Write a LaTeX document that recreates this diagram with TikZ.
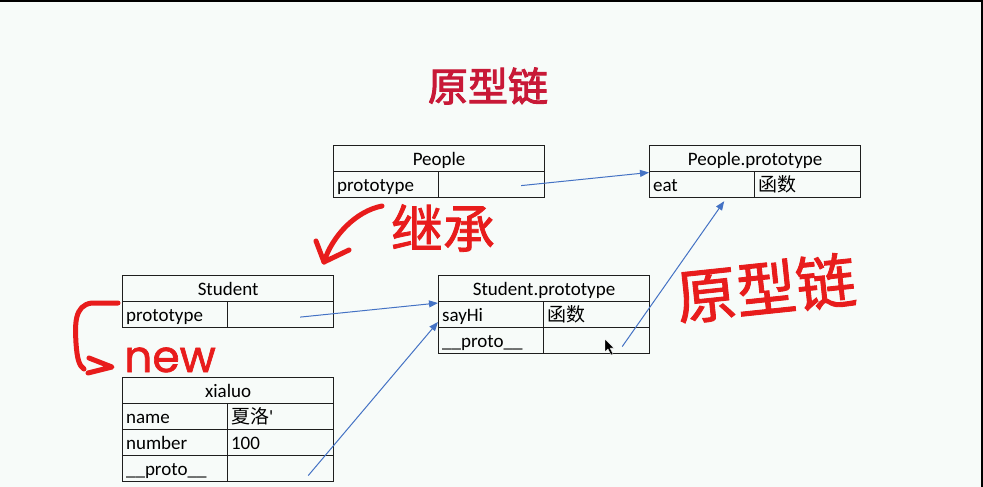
\documentclass[tikz,border=0pt]{standalone}
\usepackage{fontspec}
\usetikzlibrary{arrows.meta}
\newfontfamily\tabfont{Carlito}
\newfontfamily\cjk{Noto Sans CJK SC}
\newfontfamily\cjkbold[FakeBold=2.5]{Noto Sans CJK SC}
\newfontfamily\handcjk[FakeBold=1.5]{Noto Sans CJK SC}
\newfontfamily\handlat[FakeBold=1.5]{Poppins}
\definecolor{bgc}{RGB}{247,251,249}
\definecolor{linec}{RGB}{30,30,30}
\definecolor{arrc}{RGB}{68,114,196}
\definecolor{titlered}{RGB}{200,25,55}
\definecolor{handred}{RGB}{232,28,28}
\tikzset{
  cellbase/.style={draw=linec, line width=1.2pt, minimum height=26pt, inner ysep=0pt,
    text height=15.5pt, text depth=2pt, font=\tabfont\fontsize{19}{22}\selectfont, anchor=north west},
  hdr/.style={cellbase, minimum width=211pt, inner xsep=0pt},
  keycell/.style={cellbase, text width=98pt, inner xsep=3.5pt, align=left},
  valcell/.style={cellbase, text width=99pt, inner xsep=3.5pt, align=left},
  link/.style={draw=arrc, line width=1pt, -{Triangle[length=9pt,width=7pt]}},
  hand/.style={draw=handred, line width=5pt, line cap=round, line join=round},
  handtext/.style={text=handred, inner sep=0pt}
}
\begin{document}
\begin{tikzpicture}[x=1pt,y=-1pt]
\useasboundingbox (0,0) rectangle (983,487);
\fill[bgc] (0,0) rectangle (983,487);
\fill[black] (0,0) rectangle (983,2.5);
\fill[black] (980.5,0) rectangle (983,487);

% title
\node[font=\cjkbold\fontsize{40}{44}\selectfont, text=titlered] (title) at (488,86) {原型链};

% People
\node[hdr] (p) at (333,145) {People};
\node[keycell] (pk) at (333,171) {prototype};
\node[valcell] (pv) at (438,171) {};

% People.prototype
\node[hdr] (pp) at (649,145) {People.prototype};
\node[keycell] (ppk) at (649,171) {eat};
\node[valcell] (ppv) at (754,171) {\cjk 函数};

% Student
\node[hdr] (s) at (122,275) {Student};
\node[keycell] (sk) at (122,301) {prototype};
\node[valcell] (sv) at (227,301) {};

% Student.prototype
\node[hdr] (sp) at (438,275) {Student.prototype};
\node[keycell] (spk1) at (438,301) {sayHi};
\node[valcell] (spv1) at (543,301) {\cjk 函数};
\node[keycell] (spk2) at (438,327) {\_\_proto\_\_};
\node[valcell] (spv2) at (543,327) {};

% xialuo
\node[hdr] (x) at (122,377) {xialuo};
\node[keycell] (xk1) at (122,403) {name};
\node[valcell] (xv1) at (227,403) {{\cjk 夏洛}\textquotesingle};
\node[keycell] (xk2) at (122,429) {number};
\node[valcell] (xv2) at (227,429) {100};
\node[keycell] (xk3) at (122,455) {\_\_proto\_\_};
\node[valcell] (xv3) at (227,455) {};

% blue links
\draw[link] ([xshift=-24pt,yshift=-1pt]pv.east) -- ([yshift=-1.5pt]ppk.north west);
\draw[link] ([xshift=-34pt,yshift=-2.5pt]sv.east) -- ([yshift=-2pt]spk1.north west);
\draw[link] ([xshift=-26pt,yshift=-7pt]xv3.east) -- ([yshift=5pt]spk2.north west);
\draw[link] ([xshift=-28pt,yshift=-6pt]spv2.east) -- ([xshift=-31pt,yshift=-3pt]ppk.south east);

% mouse cursor
\filldraw[fill=black, draw=white, line width=0.4pt] (605,339) -- (605,352) -- (608,349) -- (611,355) -- (613,354) -- (610,348) -- (614,348) -- cycle;

% handwritten annotations
\coordinate (j1) at (382,206);
\coordinate (j2) at (324,262);
\draw[hand] (j1) .. controls (356,211) and (332,236) .. (j2);
\draw[hand] (316,241) -- (j2) -- (349,250);
\node[handtext, font=\handcjk\fontsize{52}{56}\selectfont] (jc) at (443,228) {继承};

\coordinate (n1) at (118,303);
\coordinate (n2) at (84,369);
\draw[hand] (n1) -- (92,303) .. controls (74,305) and (75,325) .. (76,343) .. controls (77,358) and (79,366) .. (n2);
\draw[hand] (89,358) -- (112,367) -- (88,373);
\node[handtext, font=\handlat\fontsize{44}{48}\selectfont, anchor=base] (nw) at (170,372) {new};

\node[handtext, font=\handcjk\fontsize{60}{64}\selectfont, rotate=6] (yxl) at (766,288) {原型链};
\end{tikzpicture}
\end{document}
